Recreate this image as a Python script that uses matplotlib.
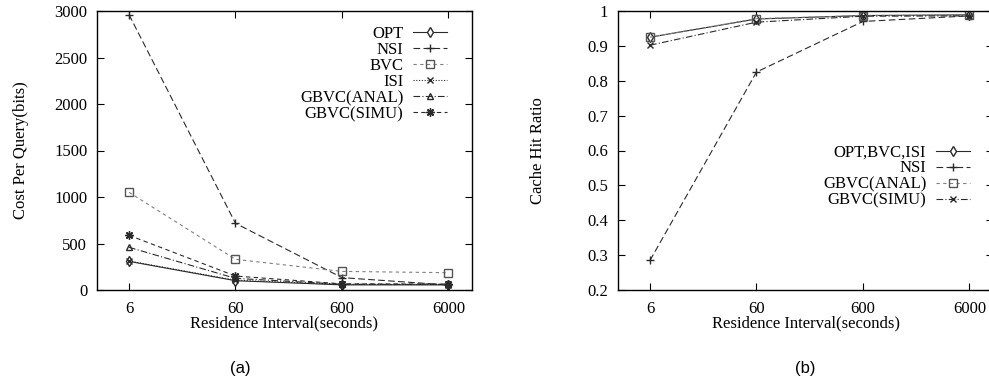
import matplotlib
matplotlib.use("Agg")
import matplotlib.pyplot as plt
from matplotlib.ticker import FixedLocator, NullLocator, FixedFormatter

intervals = [6, 60, 600, 6000]
tick_labels = ["6", "60", "600", "6000"]

# (a) Cost per query (bits)
cost_opt = [308, 100, 55, 55]
cost_nsi = [2960, 717, 133, 54]
cost_bvc = [1050, 330, 200, 186]
cost_isi = [312, 105, 60, 58]
cost_anal = [459, 125, 62, 60]
cost_simu = [588, 150, 66, 64]

# (b) Cache hit ratio
hit_opt = [0.925, 0.977, 0.987, 0.989]
hit_nsi = [0.285, 0.825, 0.970, 0.986]
hit_anal = [0.925, 0.978, 0.987, 0.988]
hit_simu = [0.902, 0.968, 0.985, 0.986]

plt.rcParams['font.family'] = ['Liberation Serif', 'DejaVu Serif']
W, H = 989, 383
fig = plt.figure(figsize=(W / 100, H / 100), dpi=100)

def ax_at(l, t, r, b):
    return fig.add_axes([l / W, (H - b) / H, (r - l) / W, (b - t) / H])

dark = '#2a2a2a'
light = '#808080'
lw = 0.8
ms = 5
FS = 12

def style(ax, yticks, ylabels):
    ax.set_xscale('log')
    ax.set_xlim(3, 10000)
    ax.xaxis.set_major_locator(FixedLocator(intervals))
    ax.xaxis.set_major_formatter(FixedFormatter(tick_labels))
    ax.xaxis.set_minor_locator(NullLocator())
    ax.set_yticks(yticks)
    ax.set_yticklabels(ylabels)
    ax.tick_params(direction='in', length=5, width=0.8, top=True, right=True,
                   labelsize=FS, colors='black')
    ax.tick_params(axis='x', pad=8)
    ax.tick_params(axis='y', pad=7)
    for s in ax.spines.values():
        s.set_linewidth(1.0)
    ax.set_xlabel('Residence Interval(seconds)', fontsize=FS, labelpad=-1)

# Left panel
ax1 = ax_at(97, 11, 472, 290)
ax1.plot(intervals, cost_opt, color=dark, lw=lw, ls='-', marker='d', mfc='white', ms=ms, label='OPT')
ax1.plot(intervals, cost_nsi, color=dark, lw=lw, ls=(0, (6, 3)), marker='+', ms=ms + 1, label='NSI')
ax1.plot(intervals, cost_bvc, color=light, lw=lw, ls=(0, (3, 3)), marker='s', mfc='none', mec='#555555', ms=ms + 1, label='BVC')
ax1.plot(intervals, cost_isi, color=dark, lw=lw, ls=(0, (1, 1.5)), marker='x', ms=ms, label='ISI')
ax1.plot(intervals, cost_anal, color=dark, lw=lw, ls=(0, (6, 2, 1, 2)), marker='^', mfc='none', ms=ms, label='GBVC(ANAL)')
ax1.plot(intervals, cost_simu, color=dark, lw=lw, ls=(0, (4, 3)), marker=(8, 2, 0), ms=ms + 1, label='GBVC(SIMU)')
style(ax1, list(range(0, 3001, 500)), [str(v) for v in range(0, 3001, 500)])
ax1.set_ylim(0, 3000)
ax1.set_ylabel('Cost Per Query(bits)', fontsize=FS, labelpad=18)
ax1.legend(loc='upper right', bbox_to_anchor=((455 - 97) / 375, (290 - 18) / 279), frameon=False, markerfirst=False,
           fontsize=FS, labelspacing=0.0, handlelength=2.0, handletextpad=0.6, borderpad=0)

# Right panel
ax2 = ax_at(618, 11, 993, 290)
ax2.plot(intervals, hit_opt, color=dark, lw=lw, ls='-', marker='d', mfc='white', ms=ms, label='OPT,BVC,ISI')
ax2.plot(intervals, hit_nsi, color=dark, lw=lw, ls=(0, (6, 3)), marker='+', ms=ms + 1, label='NSI')
ax2.plot(intervals, hit_anal, color=light, lw=lw, ls=(0, (3, 3)), marker='s', mfc='none', mec='#555555', ms=ms + 1, label='GBVC(ANAL)')
ax2.plot(intervals, hit_simu, color=dark, lw=lw, ls=(0, (6, 2, 1, 2)), marker='x', ms=ms, label='GBVC(SIMU)')
yt = [0.2, 0.3, 0.4, 0.5, 0.6, 0.7, 0.8, 0.9, 1.0]
style(ax2, yt, ['0.2', '0.3', '0.4', '0.5', '0.6', '0.7', '0.8', '0.9', '1'])
ax2.set_ylim(0.2, 1.0)
ax2.set_ylabel('Cache Hit Ratio', fontsize=FS, labelpad=30)
ax2.legend(loc='upper right', bbox_to_anchor=((978 - 618) / 375, (290 - 136) / 279), frameon=False,
           markerfirst=False, fontsize=FS, labelspacing=0.0, handlelength=2.0, handletextpad=0.6, borderpad=0)

fig.text(240 / W, 1 - 368 / H, '(a)', fontsize=12, family='Liberation Sans', ha='center', va='center')
fig.text(805 / W, 1 - 368 / H, '(b)', fontsize=12, family='Liberation Sans', ha='center', va='center')

fig.savefig('out.png', dpi=100)
